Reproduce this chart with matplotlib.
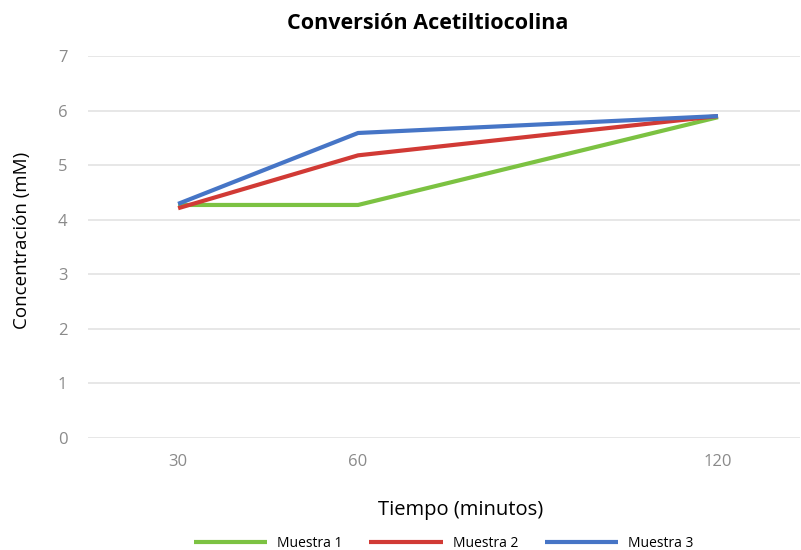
import matplotlib.pyplot as plt

tiempo = [30, 60, 120]
muestra_1 = [4.27, 4.27, 5.88]
muestra_2 = [4.21, 5.18, 5.90]
muestra_3 = [4.29, 5.59, 5.90]
series_labels = ["Muestra 1", "Muestra 2", "Muestra 3"]
colors = ["#7cc242", "#d13a35", "#4675c6"]

plt.rcParams["font.family"] = ["Open Sans", "DejaVu Sans"]

fig = plt.figure(figsize=(8.01, 5.50), dpi=100)
ax = fig.add_axes([0.11, 0.204, 0.889, 0.694])

for vals, lab, c in zip([muestra_1, muestra_2, muestra_3], series_labels, colors):
    ax.plot(tiempo, vals, color=c, linewidth=3, label=lab, solid_capstyle="butt")

ax.set_xlim(15, 133.7)
ax.set_ylim(0, 7)
ax.set_xticks(tiempo)
ax.set_yticks(range(0, 8))
ax.grid(axis="y", color="#e3e3e3", linewidth=1.2)
ax.set_axisbelow(True)
for s in ax.spines.values():
    s.set_visible(False)
ax.tick_params(length=0, labelsize=12, labelcolor="#8a8a8a")
ax.tick_params(axis="x", pad=12)
ax.tick_params(axis="y", pad=15)

fig.text(0.534, 0.958, "Conversión Acetiltiocolina", ha="center", va="center",
         fontsize=15.5, fontweight="bold")
fig.text(0.575, 0.072, "Tiempo (minutos)", ha="center", va="center", fontsize=14.5)
fig.text(0.028, 0.563, "Concentración (mM)", ha="center", va="center",
         fontsize=13.5, rotation=90)

leg = fig.legend(loc="center", bbox_to_anchor=(0.554, 0.012), ncol=3, frameon=False,
                 fontsize=10, handlelength=5.3, columnspacing=1.9, handletextpad=0.72)

fig.savefig("out.png", dpi=100)
